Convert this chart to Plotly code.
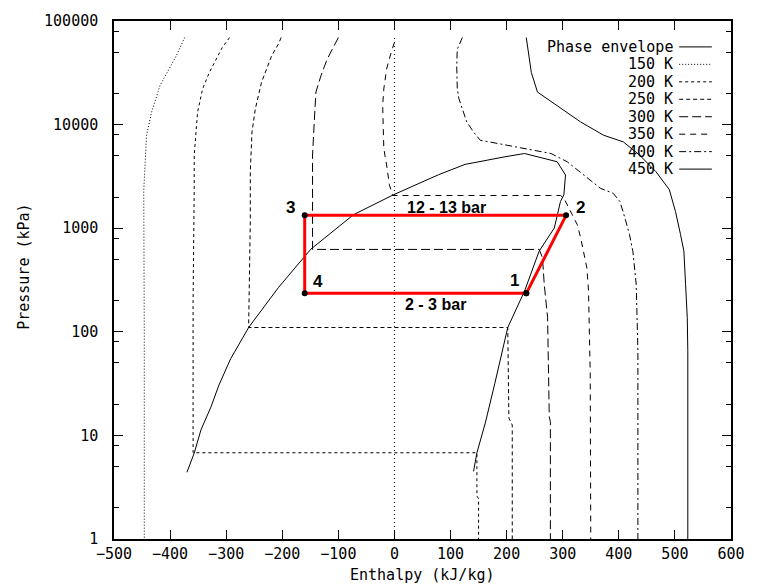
import math
import plotly.graph_objects as go

# ---- data: enthalpy (kJ/kg) vs pressure (kPa) ----
envelope_h = [-370, -357, -345, -327, -313, -292, -263, -260, -207, -149, -73, -2, 79, 126, 197, 232,
              290, 305, 302, 296, 285, 258, 232, 202, 179, 162, 147, 141]
envelope_p = [4.4, 6.75, 11.3, 18.9, 30.5, 55, 103, 110, 267, 628, 1350, 2100, 3290, 4130, 4890, 5260,
              4380, 3260, 2100, 1810, 1004, 601, 248, 110, 31.9, 13.2, 6.8, 4.5]

t150_h = [-374, -389, -418, -433, -442, -445, -447, -446, -446]
t150_p = [69200, 46100, 23800, 13200, 7890, 4080, 2260, 100, 1]

t200_h = [-294, -307, -330, -342, -351, -357, -357, -359, -359, 147, 147, 150, 150]
t200_p = [69200, 55500, 31900, 22100, 13200, 5080, 2430, 199, 6.8, 6.8, 2.6, 2.45, 1]

t250_h = [-202, -207, -219, -237, -248, -254, -257, -257, -260, 202, 204, 210, 210]
t250_p = [69200, 59700, 46100, 25600, 14200, 8490, 3520, 1160, 110, 110, 14.7, 12.6, 1]

t300_h = [-100, -108, -120, -131, -140, -143, -146, -146, 258, 264, 267, 273, 274, 276, 278, 278]
t300_p = [69200, 57500, 42800, 29700, 20600, 10600, 5080, 624, 624, 518, 288, 138, 66, 15.1, 13.6, 1]

t350_h = [0, -5, -14, -19, -21, -20, -19, -14, -9, -3, 296, 302, 314, 326, 332, 337, 343, 346, 348, 349, 350]
t350_p = [62000, 51600, 34400, 22100, 15300, 10600, 5870, 4080, 2620, 2070, 2070, 1950, 1450, 1080, 805,
          601, 415, 248, 100, 40, 1]

t400_h = [121, 112, 111, 112, 115, 121, 129, 141, 153, 185, 232, 279, 308, 337, 367, 390, 402, 411, 419,
          425, 431, 434, 434]
t400_p = [69200, 53400, 37100, 22100, 17700, 14200, 10600, 8490, 7060, 6560, 5870, 5260, 4380, 3260,
          2430, 2170, 1810, 1250, 869, 601, 288, 66, 1]

t450_h = [235, 244, 255, 290, 332, 373, 408, 437, 466, 490, 501, 510, 516, 519, 522, 523, 523]
t450_p = [69200, 31900, 20600, 15300, 10600, 7890, 6810, 5080, 3520, 2360, 1450, 869, 601, 288, 138, 66, 1]

zero_h = [0, 0]
zero_p = [1, 70000]

# refrigeration cycle states 1 -> 2 -> 3 -> 4 -> 1
cycle_h = [235, 306, -160, -160, 235]
cycle_p = [235, 1330, 1330, 235, 235]
state_labels = ["1", "2", "3", "4"]
state_label_h = [214, 331, -185, -137]
state_label_p = [310, 1600, 1585, 303]
pressure_labels = ["12 - 13 bar", "2 - 3 bar"]
pressure_label_h = [93, 74]
pressure_label_p = [1585, 182]

x_ticks = [-500, -400, -300, -200, -100, 0, 100, 200, 300, 400, 500, 600]
y_ticks = [1, 10, 100, 1000, 10000, 100000]
y_tick_text = ["1", "10", "100", "1000", "10000", "100000"]
y_minor = [m * 10 ** e for e in range(5) for m in (2, 5, 8)]

legend_names = ["Phase envelope", "150 K", "200 K", "250 K", "300 K", "350 K", "400 K", "450 K"]

MONO = "DejaVu Sans Mono"
styles = {
    "Phase envelope": "solid",
    "150 K": "1px,2px",
    "200 K": "3px,3px",
    "250 K": "4px,3px",
    "300 K": "9px,4px",
    "350 K": "6px,5px",
    "400 K": "7px,3px,2px,3px",
    "450 K": "solid",
}

fig = go.Figure()

fig.add_trace(go.Scatter(x=zero_h, y=zero_p, mode="lines", showlegend=False, hoverinfo="skip",
                         line=dict(color="black", width=1, dash="1px,3px")))

curves = [("150 K", t150_h, t150_p), ("200 K", t200_h, t200_p), ("250 K", t250_h, t250_p),
          ("300 K", t300_h, t300_p), ("350 K", t350_h, t350_p), ("400 K", t400_h, t400_p),
          ("450 K", t450_h, t450_p), ("Phase envelope", envelope_h, envelope_p)]
for name, hx, py in curves:
    fig.add_trace(go.Scatter(x=hx, y=py, mode="lines", name=name, showlegend=False,
                             line=dict(color="black", width=1, dash=styles[name])))

fig.add_trace(go.Scatter(x=cycle_h, y=cycle_p, mode="lines+markers", showlegend=False,
                         line=dict(color="#ff0000", width=3),
                         marker=dict(color="black", size=6)))

annotations = []
for txt, hx, py in zip(state_labels, state_label_h, state_label_p):
    annotations.append(dict(x=hx, y=math.log10(py), xref="x", yref="y", text=f"<b>{txt}</b>",
                            showarrow=False, font=dict(family="Liberation Sans, Arial", size=17, color="black")))
for txt, hx, py in zip(pressure_labels, pressure_label_h, pressure_label_p):
    annotations.append(dict(x=hx, y=math.log10(py), xref="x", yref="y", text=f"<b>{txt}</b>",
                            showarrow=False, font=dict(family="Liberation Sans, Arial", size=16, color="black")))

# key in the upper right corner: text right-aligned, line sample to its right
shapes = []
row0, row_step = 0.950, 0.0337
for i, name in enumerate(legend_names):
    yy = row0 - i * row_step
    annotations.append(dict(x=0.909, y=yy, xref="paper", yref="paper", xanchor="right", yanchor="middle",
                            text=name, showarrow=False, font=dict(family=MONO, size=15, color="black")))
    shapes.append(dict(type="line", xref="paper", yref="paper", x0=0.916, x1=0.969, y0=yy, y1=yy,
                       line=dict(color="black", width=1, dash=styles[name])))

annotations.append(dict(x=0.5, y=-0.069, xref="paper", yref="paper", xanchor="center", yanchor="middle",
                        text="Enthalpy (kJ/kg)", showarrow=False,
                        font=dict(family=MONO, size=15, color="black")))
annotations.append(dict(x=-0.147, y=0.526, xref="paper", yref="paper", xanchor="center", yanchor="middle",
                        text="Pressure (kPa)", textangle=-90, showarrow=False,
                        font=dict(family=MONO, size=15, color="black")))

fig.update_layout(
    width=757, height=585,
    margin=dict(l=114, r=18, t=18, b=46),
    paper_bgcolor="white", plot_bgcolor="white",
    annotations=annotations, shapes=shapes,
    showlegend=False,
)
fig.update_xaxes(range=[-500, 600], tickvals=x_ticks, ticks="inside", ticklen=9, tickcolor="black",
                 mirror="ticks", showline=True, linecolor="black", linewidth=1.5, showgrid=False,
                 zeroline=False, tickfont=dict(family=MONO, size=15, color="black"))
fig.update_yaxes(type="log", range=[0, 5], tickvals=y_ticks, ticktext=y_tick_text, ticks="inside",
                 ticklen=9, tickcolor="black", mirror="ticks", showline=True, linecolor="black",
                 linewidth=1.5, showgrid=False, zeroline=False, ticklabelstandoff=11,
                 tickfont=dict(family=MONO, size=15, color="black"),
                 minor=dict(tickvals=y_minor, ticks="inside", ticklen=5, tickcolor="black", showgrid=False))

fig.write_html("out.html")
